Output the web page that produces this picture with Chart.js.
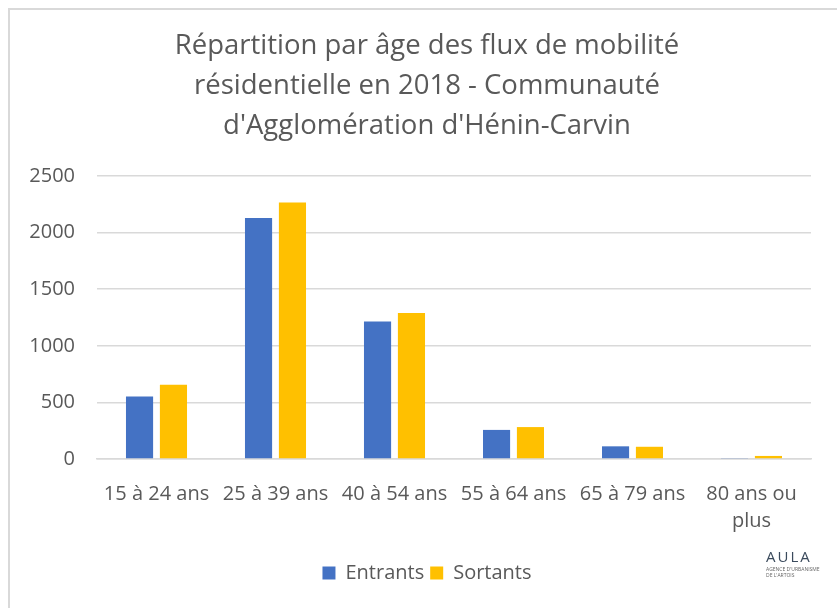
<!DOCTYPE html>
<html>
<head>
<meta charset="utf-8">
<script src="https://cdn.jsdelivr.net/npm/chart.js@4/dist/chart.umd.min.js"></script>
<style>
  html, body { margin: 0; padding: 0; background: #fff; }
  #wrap { position: relative; width: 837px; height: 608px; overflow: hidden; }
  #frame { position: absolute; left: 8px; top: 8px; width: 900px; height: 700px; border: 2px solid #d9d9d9; box-sizing: border-box; }
  canvas { position: absolute; left: 0; top: 0; }
  #logo { position: absolute; left: 766px; top: 546px; font-family: 'Open Sans', sans-serif; font-size: 15px; letter-spacing: 2px; color: #3a4a5c; }
  #logo small { display: block; font-size: 5px; letter-spacing: 0; color: #666; line-height: 6px; }
</style>
</head>
<body>
<div id="wrap">
  <div id="frame"></div>
  <canvas id="chart" width="837" height="608"></canvas>
  <div id="logo">AULA<small>AGENCE D'URBANISME<br>DE L'ARTOIS</small></div>
</div>
<script>
// age groups
const categories = ['15 à 24 ans', '25 à 39 ans', '40 à 54 ans', '55 à 64 ans', '65 à 79 ans', ['80 ans ou', 'plus']];
// residential flows
const entrants = [553, 2130, 1215, 257, 112, 5];
const sortants = [655, 2265, 1290, 282, 108, 27];
const yTicks = [0, 500, 1000, 1500, 2000, 2500];

const textColor = '#595959';
const gridColor = '#d9d9d9';
const font = "'Open Sans', sans-serif";

// Excel centres title and legend on the whole frame, not on the plot
const centerShift = {
    id: 'centerShift',
    afterLayout(chart) {
        [chart.titleBlock, chart.legend].forEach(b => {
            if (b) { b.left += 18; b.right += 18; }
        });
    }
};

new Chart(document.getElementById('chart').getContext('2d'), {
    type: 'bar',
    data: {
        labels: categories,
        datasets: [
            { label: 'Entrants', data: entrants, backgroundColor: '#4472c4' },
            { label: 'Sortants', data: sortants, backgroundColor: '#ffc000' }
        ]
    },
    options: {
        responsive: false,
        animation: false,
        devicePixelRatio: 1,
        categoryPercentage: 0.57,
        barPercentage: 0.8,
        layout: { padding: { top: 8, left: 7, right: 26, bottom: 15 } },
        plugins: {
            title: {
                display: true,
                text: ['Répartition par âge des flux de mobilité', 'résidentielle en 2018 - Communauté', "d'Agglomération d'Hénin-Carvin"],
                color: textColor,
                font: { family: font, size: 27.5, weight: 'normal', lineHeight: 40 / 27.5 },
                padding: { top: 18, bottom: 30 }
            },
            legend: {
                position: 'bottom',
                labels: {
                    color: textColor,
                    font: { family: font, size: 20 },
                    boxWidth: 13,
                    boxHeight: 13,
                    padding: 6
                }
            },
            tooltip: { enabled: false }
        },
        scales: {
            x: {
                grid: { display: false, drawTicks: false },
                border: { display: true, color: gridColor, width: 1.5 },
                ticks: { color: textColor, font: { family: font, size: 20, lineHeight: 1.35 }, padding: 22, maxRotation: 0 }
            },
            y: {
                min: 0,
                max: 2500,
                afterBuildTicks: axis => { axis.ticks = yTicks.map(v => ({ value: v })); },
                afterFit: axis => { axis.width = 90; },
                grid: { color: gridColor, lineWidth: 1.5, drawTicks: false },
                border: { display: false },
                ticks: { color: textColor, font: { family: font, size: 20 }, padding: 22, callback: v => String(v) }
            }
        }
    },
    plugins: [centerShift]
});
</script>
</body>
</html>
